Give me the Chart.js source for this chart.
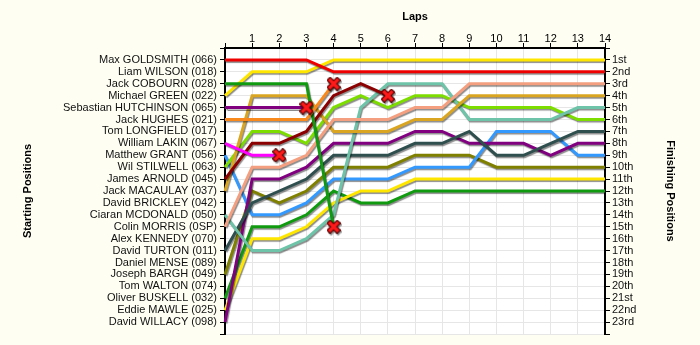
<!DOCTYPE html>
<html><head><meta charset="utf-8">
<script src="https://cdn.jsdelivr.net/npm/chart.js@4.4.1/dist/chart.umd.min.js"></script>
<style>html,body{margin:0;padding:0;background:#FFFEF3;} #wrap{width:700px;height:345px;}</style>
</head><body><div id="wrap"><canvas id="c" width="700" height="345"></canvas></div>
<script>
// ---- data ----
const lapLabels = ['0','1','2','3','4','5','6','7','8','9','10','11','12','13','14'];
const startNames = ['Max GOLDSMITH (066)','Liam WILSON (018)','Jack COBOURN (028)','Michael GREEN (022)',
  'Sebastian HUTCHINSON (065)','Jack HUGHES (021)','Tom LONGFIELD (017)','William LAKIN (067)',
  'Matthew GRANT (056)','Wil STILWELL (063)','James ARNOLD (045)','Jack MACAULAY (037)',
  'David BRICKLEY (042)','Ciaran MCDONALD (050)','Colin MORRIS (0SP)','Alex KENNEDY (070)',
  'David TURTON (011)','Daniel MENSE (089)','Joseph BARGH (049)','Tom WALTON (074)',
  'Oliver BUSKELL (032)','Eddie MAWLE (025)','David WILLACY (098)'];
const finishLabels = ['1st','2nd','3rd','4th','5th','6th','7th','8th','9th','10th','11th','12th',
  '13th','14th','15th','16th','17th','18th','19th','20th','21st','22nd','23rd'];

// position per lap (lap 0 = start); series end where the car retired
const posGoldsmith   = [1,1,1,1,2,2,2,2,2,2,2,2,2,2,2];
const posCobourn     = [3,3,3,3,15];
const posGreen       = [4,2,2,2,1,1,1,1,1,1,1,1,1,1,1];
const posHutchinson  = [5,5,5,5];
const posHughes      = [6,6,6,6,3];
const posLakin       = [8,9,9];
const posGrant       = [9,14,14,13,11,11,11,10,10,10,7,7,7,9,9];
const posStilwell    = [10,7,7,8,5,4,5,4,4,5,5,5,5,6,6];
const posArnold      = [11,8,8,7,4,3,4];
const posMacaulay    = [12,4,4,4,7,7,7,6,6,4,4,4,4,4,4];
const posMcdonald    = [14,17,17,16,14,5,3,3,3,6,6,6,6,5,5];
const posMorris      = [15,10,10,9,6,6,6,5,5,3,3,3,3,3,3];
const posTurton      = [17,13,12,11,9,9,9,8,8,7,9,9,8,7,7];
const posBargh       = [19,12,13,12,10,10,10,9,9,9,10,10,10,10,10];
const posBuskell     = [21,15,15,14,12,13,13,12,12,12,12,12,12,12,12];
const posMawle       = [22,16,16,15,13,12,12,11,11,11,11,11,11,11,11];
const posWillacy     = [23,11,11,10,8,8,8,7,7,8,8,8,9,8,8];

// ---- rendering ----
const FONT = "'Liberation Sans', Arial, sans-serif";
function makeCross(){
  const c = document.createElement('canvas'); c.width = 14; c.height = 14;
  const g = c.getContext('2d');
  const path = () => { g.beginPath(); g.moveTo(3.5,3.5); g.lineTo(10.5,10.5); g.moveTo(10.5,3.5); g.lineTo(3.5,10.5); };
  g.lineCap = 'square';
  g.strokeStyle = '#5a0000'; g.lineWidth = 5.5; path(); g.stroke();
  g.strokeStyle = '#ff1a1a'; g.lineWidth = 3.2; path(); g.stroke();
  return c;
}
const cross = makeCross();

function ds(label, data, color, retired){
  return {
    label, data, borderColor: color, backgroundColor: color, borderWidth: 3,
    tension: 0, fill: false, spanGaps: false, xAxisID: 'x', yAxisID: 'y',
    pointRadius: ctx => (retired && ctx.dataIndex === data.length - 1) ? 6 : 0,
    pointStyle: ctx => (retired && ctx.dataIndex === data.length - 1) ? cross : 'circle',
    pointHoverRadius: 0, pointHitRadius: 0
  };
}

const datasets = [
  ds(startNames[7],  posLakin,      '#ff00ff', true),
  ds(startNames[4],  posHutchinson, '#800080', true),
  ds(startNames[5],  posHughes,     '#f7891d', true),
  ds(startNames[2],  posCobourn,    '#109a10', true),
  ds(startNames[10], posArnold,     '#8b0000', true),
  ds(startNames[0],  posGoldsmith,  '#ee0000', false),
  ds(startNames[3],  posGreen,      '#ffe600', false),
  ds(startNames[14], posMorris,     '#f4a080', false),
  ds(startNames[11], posMacaulay,   '#daa520', false),
  ds(startNames[13], posMcdonald,   '#6ec4a8', false),
  ds(startNames[9],  posStilwell,   '#7ddc00', false),
  ds(startNames[16], posTurton,     '#2f4f4f', false),
  ds(startNames[22], posWillacy,    '#800080', false),
  ds(startNames[8],  posGrant,      '#3399ff', false),
  ds(startNames[18], posBargh,      '#808000', false),
  ds(startNames[21], posMawle,      '#ffe600', false),
  ds(startNames[20], posBuskell,    '#109a10', false)
];

const bgPlugin = { id:'bg', beforeDraw(chart){ const {ctx, chartArea:a} = chart; ctx.save(); ctx.fillStyle = '#ffffff'; ctx.fillRect(a.left, a.top, a.right-a.left, a.bottom-a.top); ctx.restore(); } };
const shadowPlugin = {
  id:'shadow',
  beforeDatasetDraw(chart){ const c = chart.ctx; c.save(); c.shadowColor = 'rgba(0,0,0,0.45)'; c.shadowOffsetX = 1; c.shadowOffsetY = 1.5; c.shadowBlur = 1; },
  afterDatasetDraw(chart){ chart.ctx.restore(); }
};

const tickFont = {family: FONT, size: 11};
const titleFont = {family: FONT, size: 11, weight: 'bold'};
const gridCol = '#e6e6e6';

new Chart(document.getElementById('c'), {
  type: 'line',
  data: { labels: lapLabels, datasets },
  plugins: [bgPlugin, shadowPlugin],
  options: {
    responsive: false, animation: false, devicePixelRatio: 1,
    layout: { padding: {left: 0, right: 0, top: 0, bottom: 11} },
    plugins: { legend: {display: false}, tooltip: {enabled: false} },
    events: [],
    scales: {
      x: {
        type: 'category', position: 'top', offset: false,
        grid: {color: gridCol, lineWidth: 1, tickColor: '#000', tickWidth: 1, tickLength: 5},
        border: {display: true, color: '#000', width: 2},
        ticks: {autoSkip: false, maxRotation: 0, padding: -3, color: '#000', font: tickFont,
          callback(v, i){ return i === 0 ? '' : lapLabels[i]; }},
        title: {display: true, text: 'Laps', color: '#000', font: titleFont, padding: {top: 10, bottom: 0}},
        afterFit(s){ s.height = 48; }
      },
      y: {
        type: 'linear', position: 'left', reverse: true, min: 0, max: 24,
        grid: {color: gridCol, lineWidth: 1, tickColor: '#000', tickWidth: 1, tickLength: 5},
        border: {display: true, color: '#000', width: 2},
        ticks: {stepSize: 1, autoSkip: false, padding: 3, color: '#111', font: tickFont,
          callback(v){ return startNames[v - 1] || ''; }},
        title: {display: true, text: 'Starting Positions', color: '#000', font: titleFont, padding: {top: 21, bottom: 0}},
        afterFit(s){ s.width = 225; }
      },
      y2: {
        type: 'linear', position: 'right', reverse: true, min: 0, max: 24,
        grid: {drawOnChartArea: false, tickColor: '#000', tickWidth: 1, tickLength: 5},
        border: {display: true, color: '#000', width: 2},
        ticks: {stepSize: 1, autoSkip: false, padding: 2, color: '#111', font: tickFont,
          callback(v){ return finishLabels[v - 1] || ''; }},
        title: {display: true, text: 'Finishing Positions', color: '#000', font: titleFont, padding: {top: 23, bottom: 0}},
        afterFit(s){ s.width = 95; }
      }
    }
  }
});
</script></body></html>
